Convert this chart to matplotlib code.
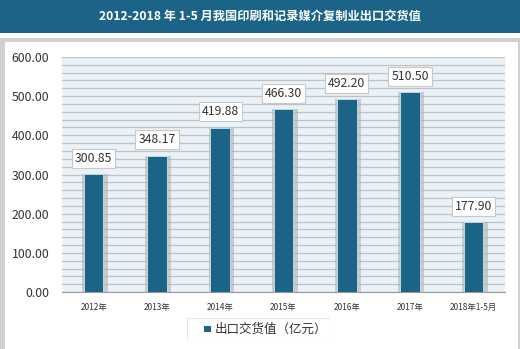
import matplotlib
matplotlib.use("Agg")
import matplotlib.pyplot as plt
from matplotlib.patches import Rectangle
import numpy as np

plt.rcParams['font.family'] = ['Noto Sans CJK SC', 'DejaVu Sans']

# data
categories = ["2012年", "2013年", "2014年", "2015年", "2016年", "2017年", "2018年1-5月"]
values = [300.85, 348.17, 419.88, 466.30, 492.20, 510.50, 177.90]
series_name = "出口交货值（亿元）"
title = "2012-2018 年 1-5 月我国印刷和记录媒介复制业出口交货值"

bar_color = "#1b6487"
banner_color = "#1b6487"

fig = plt.figure(figsize=(5.2, 3.49), dpi=100)
W, H = 520, 349

# title banner
fig.patches.append(Rectangle((0, 1 - 33 / H), 1, 33 / H, transform=fig.transFigure,
                             facecolor=banner_color, edgecolor="none", zorder=-10))
fig.text(0.5, 1 - 16.5 / H, title, ha="center", va="center", color="white",
         fontsize=8.8, fontweight="bold")

# outer panel with shadow border
fig.patches.append(Rectangle((0, 0), 1, 1 - 38 / H, transform=fig.transFigure,
                             facecolor="#d0d0d0", edgecolor="none", zorder=-10))
fig.patches.append(Rectangle((5 / W, 0), 1 - 7 / W, 1 - 42 / H, transform=fig.transFigure,
                             facecolor="white", edgecolor="none", zorder=-9))

ax = fig.add_axes([62 / W, 1 - 292 / H, (505 - 62) / W, (292 - 57) / H])
ax.set_facecolor("#eaf1f7")
x = np.arange(len(categories))

ax.set_xlim(-0.5, len(categories) - 0.5)
ax.set_ylim(0, 600)
ax.set_yticks(np.arange(0, 601, 100))
ax.set_yticklabels([f"{v:.2f}" for v in np.arange(0, 601, 100)], fontsize=8.8, color="#333333")
ax.set_yticks(np.arange(0, 601, 20), minor=True)
ax.grid(axis="y", which="both", color="#bcc2c7", linewidth=0.9)
ax.set_axisbelow(True)
ax.tick_params(axis="y", which="both", length=0, pad=9)
ax.set_xticks(x)
ax.set_xticklabels(categories, fontsize=6, color="#333333")
ax.tick_params(axis="x", length=0, pad=8)
for s in ["top", "right", "left"]:
    ax.spines[s].set_visible(False)
ax.spines["bottom"].set_color("#999999")

w = 0.31
# shadows
ax.bar(x + 0.02, values, width=w + 0.1, color="#a9adb0", alpha=0.55, zorder=2)
ax.bar(x, values, width=w, color=bar_color, edgecolor="#cfe0ea", linewidth=0.6, zorder=3)

for i, v in enumerate(values):
    ax.annotate(f"{v:.2f}", (i, v), xytext=(0, 11.5), textcoords="offset points",
                ha="center", va="center", fontsize=8.8, color="#333333", zorder=5,
                bbox=dict(boxstyle="square,pad=0.25", facecolor="white", edgecolor="#c8c8c8",
                          linewidth=0.8))

# legend
leg_ax = fig.add_axes([187 / W, 1 - 340 / H, 143 / W, 22 / H])
leg_ax.set_xlim(0, 1)
leg_ax.set_ylim(0, 1)
leg_ax.axis("off")
leg_ax.add_patch(Rectangle((0, 0), 1, 1, facecolor="white", edgecolor="#e6e6e6", linewidth=0.8))
leg_ax.add_patch(Rectangle((0.12, 0.36), 0.045, 0.28, facecolor=bar_color, edgecolor="none"))
leg_ax.text(0.19, 0.5, series_name, ha="left", va="center", fontsize=9, color="#333333")

fig.savefig("out.png", dpi=100)
